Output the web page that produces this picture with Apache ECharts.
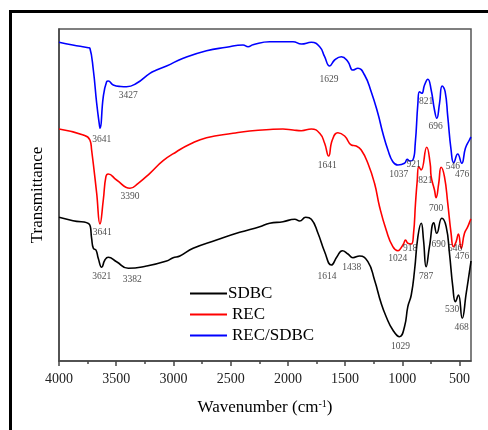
<!DOCTYPE html>
<html><head><meta charset="utf-8">
<script src="https://cdn.jsdelivr.net/npm/echarts@6/dist/echarts.min.js"></script>
<style>html,body{margin:0;padding:0;background:#fff}#c{width:488px;height:430px}</style>
</head><body><div id="c"></div>
<script>
// Wavenumber (cm-1) and transmittance (arbitrary units, offset traces)
const sdbc = [
[4000,143.7],[3878,140.3],[3735,136.7],[3715,122.7],[3700,112.7],[3677,111],[3657,102.7],[3627,93.7],[3599,101],[3570,103.7],[3497,99.3],[3395,92.7],[3235,95],[3060,100],[3003,103.3],[2944,105],[2828,112.7],[2624,121],[2421,128.7],[2246,134.3],[2159,137.7],[2043,139.3],[1940,141.7],[1897,140],[1845,143.7],[1795,141.7],[1737,127.7],[1679,109.3],[1620,96],[1571,104.3],[1524,110.3],[1475,107],[1432,103.3],[1374,105],[1301,99.3],[1243,81],[1185,57.7],[1141,44.3],[1083,31],[1025,24.3],[981,34.3],[952,54.3],[922,66],[893,91],[864,124.3],[835,137.7],[815,121],[792,94.3],[763,114.3],[725,138.3],[699,127.7],[655,142.7],[617,134.3],[588,107.7],[559,74.3],[536,59.3],[510,66],[477,42.7],[442,67.7],[407,94.3],[400,100]
];
const rec = [
[4000,232],[3788,226],[3730,221],[3715,211],[3671,168],[3642,137],[3613,161],[3590,184.3],[3570,187],[3497,181],[3380,172.7],[3308,177.7],[3206,187.7],[3090,200.3],[2973,209.3],[2857,216.7],[2711,223.3],[2479,227.7],[2334,230],[2130,231.7],[2043,232],[1955,231],[1882,230.3],[1795,232],[1722,227.7],[1679,217.7],[1644,205],[1612,221],[1563,228.3],[1504,225],[1446,216],[1403,215],[1359,211],[1301,197.7],[1243,177.7],[1199,154.3],[1141,131],[1083,114.3],[1039,110.3],[1025,111],[990,117],[972,121],[952,117.7],[922,117],[902,127.7],[885,157.7],[870,180],[856,194.3],[836,191],[787,213.7],[757,197.7],[748,184.3],[719,171],[705,163.3],[682,177.7],[661,193.7],[632,184.3],[603,157.7],[574,127.7],[553,114.3],[530,119.3],[510,127],[486,112.7],[457,127.7],[428,134.3],[405,141],[400,142]
];
const recSdbc = [
[4000,318.7],[3880,316],[3744,313.3],[3730,312.7],[3700,291],[3671,258],[3648,237],[3641,232.7],[3613,264.3],[3584,279.3],[3570,280],[3526,276],[3460,274.5],[3410,274.3],[3322,277.7],[3206,287.7],[3148,291],[3060,295],[2915,302.7],[2711,310.3],[2537,313.7],[2392,316],[2348,314.3],[2305,316.3],[2159,319.3],[1955,319.3],[1882,317],[1795,318.7],[1722,314.3],[1679,304.3],[1635,295],[1592,301],[1533,304.3],[1475,299.3],[1432,291],[1388,292.7],[1330,286],[1272,269.3],[1214,247.7],[1170,227.7],[1126,211],[1083,199.3],[1039,196],[981,197.7],[957,201.7],[937,200],[908,201],[887,217.7],[864,257.7],[850,269.3],[830,267.7],[806,276],[777,281.7],[748,271],[719,251],[699,242.7],[675,257.7],[652,275],[626,269.3],[603,244.3],[574,211],[551,198.3],[516,207],[481,197.7],[449,212.7],[414,221],[400,224]
];
// peak annotations: [wavenumber, transmittance, label]
const peakLabels = [
[3627,222,'3641'],[3395,265.3,'3427'],[1641,281.7,'1629'],[792,259.3,'821'],[710,235,'696'],[1031,186.7,'1037'],[902,196.7,'921'],[559,194.3,'546'],[477,186.7,'476'],
[3622,128.3,'3641'],[3380,164.3,'3390'],[1655,195.3,'1641'],[1039,102.7,'1024'],[931,112.3,'918'],[798,181,'821'],[705,152.7,'700'],[538,112.7,'546'],[477,104.3,'476'],
[3627,84.3,'3621'],[3360,82,'3382'],[1659,85,'1614'],[1441,93.7,'1438'],[682,116.7,'690'],[792,84.3,'787'],[1016,14.3,'1029'],[565,51.7,'530'],[481,33.3,'468']
];
const majorTicks = [500,1000,1500,2000,2500,3000,3500,4000];
const minorTicks = [750,1250,1750,2250,2750,3250,3750];
const seriesNames = ['SDBC','REC','REC/SDBC'];
const seriesColors = ['#000000','#ff0000','#0000ff'];

const FONT = '"Liberation Serif","Times New Roman",serif';
const chart = echarts.init(document.getElementById('c'), null, {renderer:'canvas'});
const lineSeries = [sdbc, rec, recSdbc].map((d,i)=>({
  name: seriesNames[i], type:'line', data:d, symbol:'none', showSymbol:false, smooth:0.5,
  lineStyle:{color:seriesColors[i], width:1.6}, itemStyle:{color:seriesColors[i]}, xAxisIndex:0, z:3
}));
const xBase = {type:'value', min:400, max:4000, inverse:true, position:'bottom', offset:0, splitLine:{show:false}};
chart.setOption({
  backgroundColor:'#fff',
  animation:false,
  graphic:[{type:'rect', shape:{x:10.5,y:11.5,width:600,height:600}, style:{fill:'none', stroke:'#000', lineWidth:3}, silent:true}],
  grid:{left:59, right:17, top:29, bottom:69, show:true, borderColor:'#555', borderWidth:1.5, backgroundColor:'transparent'},
  legend:{
    orient:'vertical', left:185, top:280, itemWidth:37, itemHeight:2, itemGap:4, icon:'rect',
    data: seriesNames.map((n,i)=>({name:n, textStyle: i===0?{padding:[0,0,0,-4]}:{}})),
    textStyle:{fontFamily:FONT, fontSize:17, color:'#000', lineHeight:17}
  },
  xAxis:[
    Object.assign({}, xBase, {
      name:'{a|Wavenumber (cm}{s|-1}{a|)}', nameLocation:'middle', nameGap:38,
      nameTextStyle:{rich:{a:{fontFamily:FONT, fontSize:17, color:'#000'}, s:{fontFamily:FONT, fontSize:10, color:'#000', verticalAlign:'top', padding:[0,0,8,0]}}},
      axisLine:{show:true, lineStyle:{color:'#444', width:1.5}},
      axisTick:{show:true, inside:false, length:5, lineStyle:{color:'#444', width:1.5}, customValues:majorTicks},
      axisLabel:{show:true, margin:11, fontFamily:FONT, fontSize:14, color:'#222', customValues:majorTicks, formatter:v=>String(v)}
    }),
    Object.assign({}, xBase, {
      axisLine:{show:false},
      axisTick:{show:true, inside:false, length:3, lineStyle:{color:'#444', width:1.5}, customValues:minorTicks},
      axisLabel:{show:false}
    })
  ],
  yAxis:{type:'value', min:0, max:332, name:'Transmittance', nameLocation:'middle', nameGap:13, nameRotate:90,
    nameTextStyle:{fontFamily:FONT, fontSize:17, color:'#000'},
    axisLine:{show:true, lineStyle:{color:'#444', width:1.5}}, axisTick:{show:false}, axisLabel:{show:false}, splitLine:{show:false}},
  series: lineSeries.concat([{
    name:'peaks', type:'scatter', symbolSize:0, silent:true, z:4,
    data: peakLabels.map(p=>({value:[p[0],p[1]], label:{formatter:p[2]}})),
    label:{show:true, position:[0,0], align:'center', verticalAlign:'middle', fontFamily:FONT, fontSize:9.5, color:'#222'}
  }])
});
</script></body></html>
